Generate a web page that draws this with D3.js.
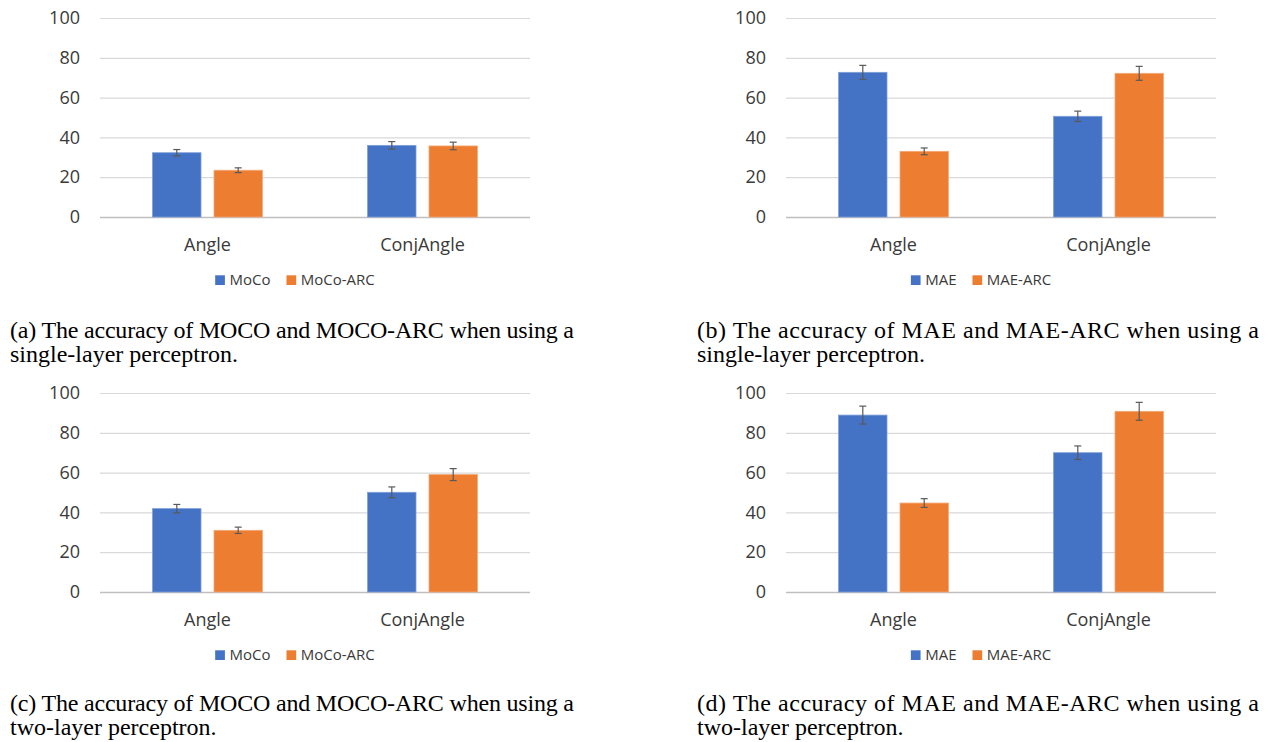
<!DOCTYPE html>
<html>
<head>
<meta charset="utf-8">
<script src="https://cdn.jsdelivr.net/npm/d3@7"></script>
<style>
  html, body { margin: 0; padding: 0; background: #fff; }
  svg { display: block; }
</style>
</head>
<body>
<svg id="chart" width="1270" height="742"></svg>
<script>
// ---------- data ----------
const categories = ["Angle", "ConjAngle"];
const yTicks = [0, 20, 40, 60, 80, 100];

// (a) single-layer perceptron, MoCo
const mocoSLP = [32.3, 36.0];
const mocoSLPErr = [1.6, 1.9];
const mocoArcSLP = [23.5, 35.7];
const mocoArcSLPErr = [1.2, 1.9];

// (b) single-layer perceptron, MAE
const maeSLP = [72.7, 50.6];
const maeSLPErr = [3.5, 2.6];
const maeArcSLP = [33.0, 72.2];
const maeArcSLPErr = [1.7, 3.5];

// (c) two-layer perceptron, MoCo
const mocoMLP = [41.9, 50.1];
const mocoMLPErr = [2.1, 2.7];
const mocoArcMLP = [31.0, 59.0];
const mocoArcMLPErr = [1.6, 3.0];

// (d) two-layer perceptron, MAE
const maeMLP = [88.9, 70.0];
const maeMLPErr = [4.5, 3.4];
const maeArcMLP = [44.7, 90.8];
const maeArcMLPErr = [2.2, 4.5];

const mocoSeries = ["MoCo", "MoCo-ARC"];
const maeSeries = ["MAE", "MAE-ARC"];

const captionsLine1 = [
  "(a) The accuracy of MOCO and MOCO-ARC when using a",
  "(b) The accuracy of MAE and MAE-ARC when using a",
  "(c) The accuracy of MOCO and MOCO-ARC when using a",
  "(d) The accuracy of MAE and MAE-ARC when using a"
];
const captionsLine2 = [
  "single-layer perceptron.",
  "single-layer perceptron.",
  "two-layer perceptron.",
  "two-layer perceptron."
];

// ---------- layout ----------
const colors = ["#4472C4", "#ED7D31"];
const svg = d3.select("#chart");
const uiFont = "'Open Sans', 'Noto Sans', sans-serif";
const serifFont = "'Liberation Serif', 'Times New Roman', serif";
const textColor = "#3a3a3a";

const panels = [
  { left: 100, top: 18, bottom: 217, series: mocoSeries,
    values: [mocoSLP, mocoArcSLP], errs: [mocoSLPErr, mocoArcSLPErr],
    capX: 10, capW: 564, capY: 338 },
  { left: 786, top: 18, bottom: 217, series: maeSeries,
    values: [maeSLP, maeArcSLP], errs: [maeSLPErr, maeArcSLPErr],
    capX: 697, capW: 562, capY: 338 },
  { left: 100, top: 393, bottom: 592, series: mocoSeries,
    values: [mocoMLP, mocoArcMLP], errs: [mocoMLPErr, mocoArcMLPErr],
    capX: 10, capW: 564, capY: 711 },
  { left: 786, top: 393, bottom: 592, series: maeSeries,
    values: [maeMLP, maeArcMLP], errs: [maeMLPErr, maeArcMLPErr],
    capX: 697, capW: 562, capY: 711 }
];
const plotW = 430;

panels.forEach((p, i) => {
  const g = svg.append("g");
  const x0 = d3.scaleBand().domain(categories).range([p.left, p.left + plotW])
    .paddingInner(0).paddingOuter(0);
  const x1 = d3.scaleBand().domain(p.series).range([0, x0.bandwidth()])
    .paddingInner(0.2117).paddingOuter(0.8566);
  const y = d3.scaleLinear().domain([0, 100]).range([p.bottom, p.top]);

  // gridlines + y labels
  const yAxis = g.append("g")
    .attr("transform", `translate(${p.left},0)`)
    .call(d3.axisLeft(y).tickValues(yTicks).tickSize(-plotW).tickPadding(20)
      .tickFormat(d3.format("d")));
  yAxis.select(".domain").remove();
  yAxis.selectAll(".tick line")
    .attr("stroke", d => d === 0 ? "#bfbfbf" : "#d9d9d9")
    .attr("stroke-width", d => d === 0 ? 1.5 : 1.2);
  yAxis.selectAll(".tick text")
    .attr("font-family", uiFont).attr("font-size", 18).attr("fill", textColor);

  // bars
  p.series.forEach((s, si) => {
    g.append("g").selectAll("rect")
      .data(categories.map((c, ci) => ({ c, v: p.values[si][ci], e: p.errs[si][ci] })))
      .join("rect")
      .attr("x", d => x0(d.c) + x1(s))
      .attr("y", d => y(d.v))
      .attr("width", x1.bandwidth())
      .attr("height", d => y(0) - y(d.v))
      .attr("fill", colors[si])
      .attr("stroke", si === 0 ? "#7f9fd8" : "#f3a977")
      .attr("stroke-width", 0.8);

    // error bars
    const eg = g.append("g").attr("stroke", "#595959").attr("stroke-width", 1.2);
    categories.forEach((c, ci) => {
      const cx = x0(c) + x1(s) + x1.bandwidth() / 2;
      const v = p.values[si][ci], e = p.errs[si][ci];
      eg.append("line").attr("x1", cx).attr("x2", cx).attr("y1", y(v + e)).attr("y2", y(v - e));
      eg.append("line").attr("x1", cx - 3.5).attr("x2", cx + 3.5).attr("y1", y(v + e)).attr("y2", y(v + e));
      eg.append("line").attr("x1", cx - 3.5).attr("x2", cx + 3.5).attr("y1", y(v - e)).attr("y2", y(v - e));
    });
  });

  // category labels
  const xAxis = g.append("g")
    .attr("transform", `translate(0,${p.bottom})`)
    .call(d3.axisBottom(x0).tickSize(0).tickPadding(0));
  xAxis.select(".domain").remove();
  xAxis.selectAll(".tick text")
    .attr("dy", null).attr("y", 33.5)
    .attr("font-family", uiFont).attr("font-size", 18).attr("fill", textColor);

  // legend
  const lg = g.append("g");
  const legY = p.bottom + 68;
  let cx = 0;
  p.series.forEach((s, si) => {
    const it = lg.append("g");
    it.append("rect").attr("x", 0).attr("y", -9.7).attr("width", 9.7).attr("height", 9.7)
      .attr("fill", colors[si]);
    const t = it.append("text").attr("x", 14.3).attr("y", 0).text(s)
      .attr("font-family", uiFont).attr("font-size", 15).attr("fill", textColor);
    const w = 14.3 + t.node().getComputedTextLength();
    it.attr("transform", `translate(${cx},${legY})`);
    cx += w + 16;
  });
  const totalW = cx - 16;
  const center = p.left + plotW / 2 - 20;
  lg.attr("transform", `translate(${center - totalW / 2},0)`);

  // caption
  svg.append("text").attr("x", p.capX).attr("y", p.capY)
    .attr("font-family", serifFont)
    .attr("font-size", 24).attr("fill", "#000")
    .attr("textLength", p.capW).attr("lengthAdjust", "spacing")
    .text(captionsLine1[i]);
  svg.append("text").attr("x", p.capX).attr("y", p.capY + 23.5)
    .attr("font-family", serifFont)
    .attr("font-size", 24).attr("fill", "#000")
    .text(captionsLine2[i]);
});
</script>
</body>
</html>
